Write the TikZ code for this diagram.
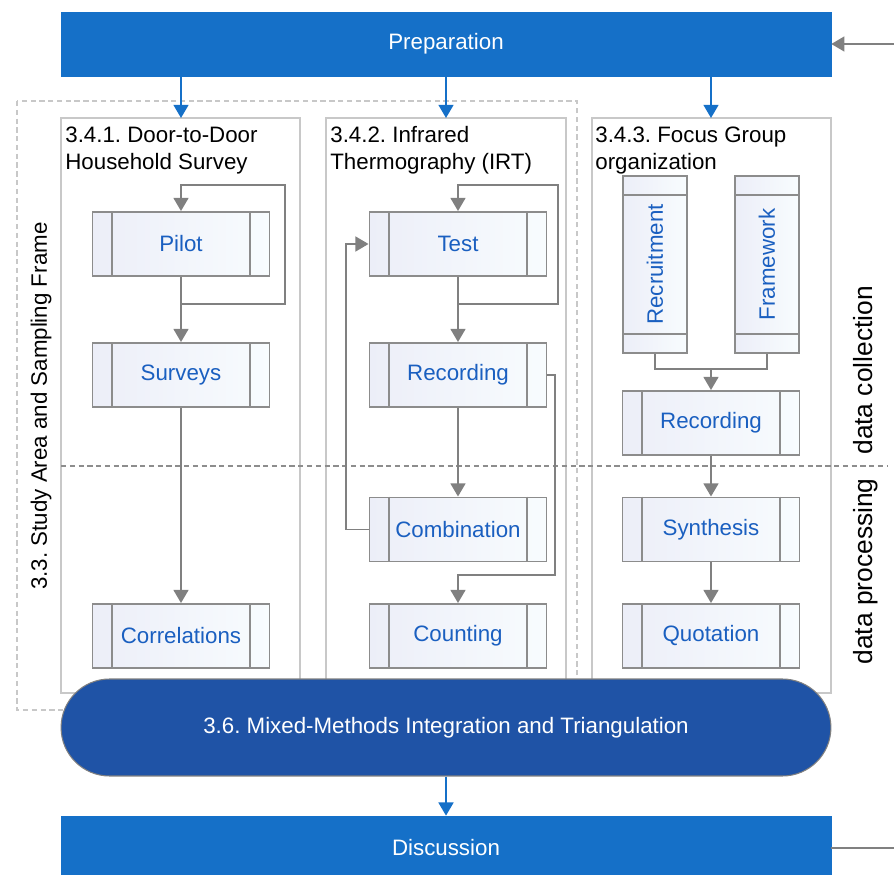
\documentclass[tikz,border=0pt]{standalone}
\usepackage{fontspec}
\setmainfont{Liberation Sans}
\usetikzlibrary{calc,arrows.meta,positioning}

\definecolor{prepblue}{RGB}{21,112,200}
\definecolor{mixblue}{RGB}{31,83,166}
\definecolor{txtblue}{RGB}{26,95,192}
\definecolor{linegray}{RGB}{128,128,128}
\definecolor{boxgray}{RGB}{140,140,140}
\definecolor{colgray}{RGB}{200,200,200}
\definecolor{boxleft}{RGB}{236,238,248}
\definecolor{boxright}{RGB}{248,252,254}

\tikzset{
  procbox/.style={draw=boxgray, line width=1.1pt, left color=boxleft, right color=boxright,
    text=txtblue, minimum width=3.54cm, minimum height=1.28cm, inner sep=0pt},
  column/.style={draw=colgray, line width=0.6pt},
  bluebar/.style={fill=prepblue, draw=prepblue, text=white, minimum width=15.4cm, minimum height=1.28cm},
  grayline/.style={draw=linegray, line width=1.1pt},
  grayarrow/.style={grayline, -{Triangle[width=8.5pt,length=7.5pt]}},
  bluearrow/.style={draw=prepblue, line width=1.1pt, -{Triangle[width=8.5pt,length=7.5pt]}},
  sectitle/.style={anchor=base west, inner sep=0pt, align=left},
  sidetext/.style={rotate=90, inner sep=0pt},
}

\begin{document}
\frenchspacing
\begin{tikzpicture}[x=0.02cm, y=-0.02cm, font=\fontsize{12.7}{15.5}\selectfont]
\useasboundingbox (0,0) rectangle (894,875);

% frame and columns
\draw[colgray, line width=0.6pt, dash pattern=on 3pt off 2pt] (17,101) rectangle (577,710);
\node[sidetext, anchor=base west] (studyarea) at (47,590) {3.3. Study Area and Sampling Frame};

\draw[column] (61,118) rectangle (300,693);
\draw[column] (326,118) rectangle (566,693);
\draw[column] (592,118) rectangle (831,693);
\coordinate (col1top) at (181,118);
\coordinate (col2top) at (446,118);
\coordinate (col3top) at (711,118);

% base anchor sits on the last line
\node[sectitle] (title1) at (65,170) {3.4.1. Door-to-Door\\Household Survey};
\node[sectitle] (title2) at (330,170) {3.4.2. Infrared\\Thermography (IRT)};
\node[sectitle] (title3) at (595,170) {3.4.3. Focus Group\\organization};

\draw[linegray!90, line width=0.9pt, dash pattern=on 3pt off 2pt] (61,466) -- (887,466);
\node[sidetext, anchor=base west, font=\fontsize{15}{18}\selectfont] (collect) at (872,455) {data collection};
\node[sidetext, anchor=base east, font=\fontsize{15}{18}\selectfont] (process) at (872,478) {data processing};

% boxes
\node[procbox] (pilot) at (181,244) {Pilot};
\node[procbox] (surveys) at (181,375) {Surveys};
\node[procbox] (correl) at (181,636) {Correlations};

\node[procbox] (test) at (458,244) {Test};
\node[procbox] (rec2) at (458,375) {Recording};
\node[procbox] (comb) at (458,529.5) {Combination};
\node[procbox] (count) at (458,636) {Counting};

\node[procbox, rotate=90] (recruit) at (655,264.5) {Recruitment};
\node[procbox, rotate=90] (frame) at (767,264.5) {Framework};
\node[procbox] (rec3) at (711,423) {Recording};
\node[procbox] (synth) at (711,529.5) {Synthesis};
\node[procbox] (quot) at (711,636) {Quotation};

\foreach \n in {pilot,surveys,correl,test,rec2,comb,count,recruit,frame,rec3,synth,quot}{
  \draw[boxgray, line width=1.1pt]
    ($(\n.north west)!0.113!(\n.north east)$) -- ($(\n.south west)!0.113!(\n.south east)$)
    ($(\n.north west)!0.887!(\n.north east)$) -- ($(\n.south west)!0.887!(\n.south east)$);
}

% connectors
\draw[grayarrow] (pilot.south) -- (surveys.north);
\draw[grayarrow] (pilot.south) ++(0,27) -- ++(104,0) -- ++(0,-119) -| (pilot.north);
\draw[grayarrow] (surveys.south) -- (correl.north);

\draw[grayarrow] (test.south) -- (rec2.north);
\draw[grayarrow] (test.south) ++(0,27) -- ++(100,0) -- ++(0,-119) -| (test.north);
\draw[grayarrow] (rec2.south) -- (comb.north);
\draw[grayarrow] (comb.west) -- ++(-23,0) |- (test.west);
\draw[grayarrow] (rec2.east) -- ++(8,0) -- ++(0,200) -| (count.north);

\draw[grayline] (recruit.west) -- ++(0,15) -| (frame.west);
\draw[grayarrow] (recruit.west) ++(0,15) -| (rec3.north);
\draw[grayarrow] (rec3.south) -- (synth.north);
\draw[grayarrow] (synth.south) -- (quot.north);

% top and bottom
\node[bluebar] (prep) at (446,44) {Preparation};
\node[fill=mixblue, draw=gray, line width=0.6pt, rounded corners=0.97cm, text=white,
  minimum width=15.4cm, minimum height=1.94cm] (mix) at (446,727.5)
  {3.6. Mixed-Methods Integration and Triangulation};
\node[bluebar] (disc) at (446,848) {Discussion};

\draw[bluearrow] (prep.south -| col1top) -- (col1top);
\draw[bluearrow] (prep.south -| col2top) -- (col2top);
\draw[bluearrow] (prep.south -| col3top) -- (col3top);
\draw[bluearrow] (mix.south) -- (disc.north);

\coordinate (backin) at (894,44);
\coordinate (backout) at (894,848);
\draw[grayarrow] (backin) -- (prep.east);
\draw[grayline] (disc.east) -- (backout);
\end{tikzpicture}
\end{document}
